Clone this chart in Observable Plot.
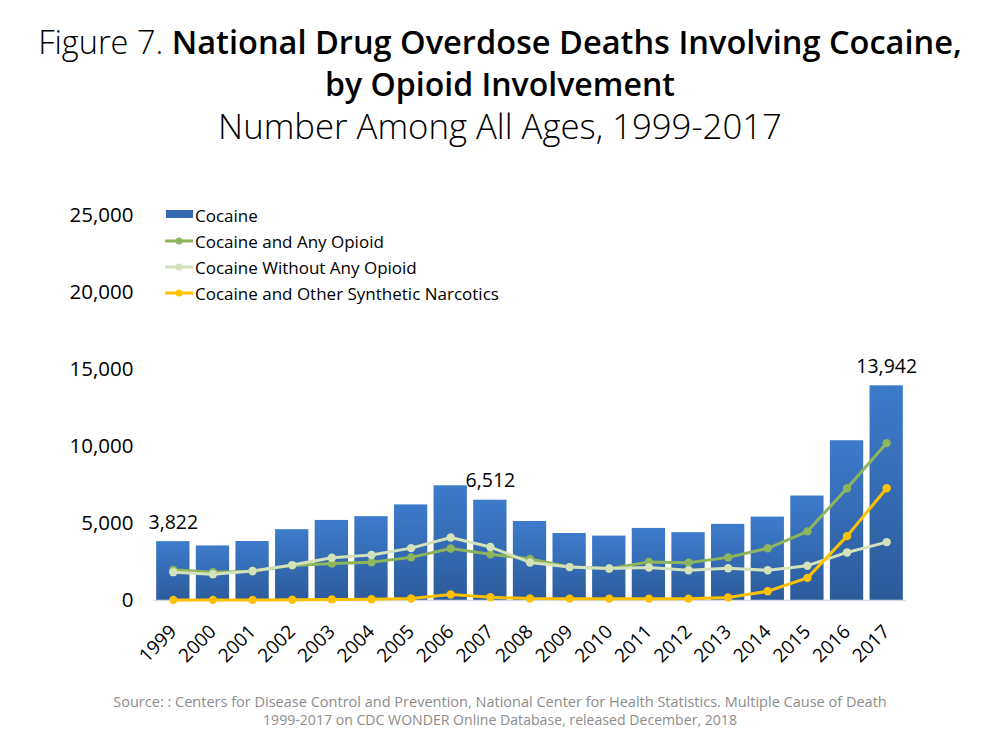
<!DOCTYPE html>
<html>
<head>
<meta charset="utf-8">
<script src="https://cdn.jsdelivr.net/npm/d3@7"></script>
<script src="https://cdn.jsdelivr.net/npm/@observablehq/plot@0.6"></script>
<style>
  html, body { margin: 0; padding: 0; background: #fff; }
  #wrap { position: relative; width: 1000px; height: 750px; font-family: "Open Sans", sans-serif; color: #000; overflow: hidden; }
  .tline { position: absolute; left: 0; width: 1000px; text-align: center; white-space: nowrap; }
  .fit { display: inline-block; white-space: nowrap; }
  #chart { position: absolute; left: 0; top: 170px; }
  #legend { position: absolute; left: 160px; top: 202px; font-size: 17px; }
  .lrow { height: 26px; display: flex; align-items: center; white-space: nowrap; }
  .lrow svg { margin-right: 1px; }
  .cap { position: absolute; left: 0; width: 1000px; text-align: center; color: #8c8c8c; white-space: nowrap; }
</style>
</head>
<body>
<div id="wrap">
  <div class="tline" style="top:21px;line-height:42px;height:42px;"><span class="fit" data-w="924" style="font-size:30px;"><span style="font-weight:300">Figure 7. </span><span style="font-weight:600">National Drug Overdose Deaths Involving Cocaine,</span></span></div>
  <div class="tline" style="top:63px;line-height:42px;height:42px;"><span class="fit" data-w="350" style="font-size:30px;font-weight:600">by Opioid Involvement</span></div>
  <div class="tline" style="top:105px;line-height:42px;height:42px;"><span class="fit" data-w="564" style="font-size:30px;font-weight:300">Number Among All Ages, 1999-2017</span></div>
  <div id="chart"></div>
  <div id="legend"></div>
  <div class="cap" style="top:692px;line-height:18px;"><span class="fit" data-w="774" style="font-size:13px;">Source: : Centers for Disease Control and Prevention, National Center for Health Statistics. Multiple Cause of Death</span></div>
  <div class="cap" style="top:710px;line-height:18px;"><span class="fit" data-w="474" style="font-size:13px;">1999-2017 on CDC WONDER Online Database, released December, 2018</span></div>
</div>
<script>
// ---- Data ----
const years = ["1999","2000","2001","2002","2003","2004","2005","2006","2007","2008","2009","2010","2011","2012","2013","2014","2015","2016","2017"];
const cocaine = [3822, 3544, 3833, 4599, 5199, 5443, 6208, 7448, 6512, 5129, 4350, 4183, 4681, 4404, 4944, 5415, 6784, 10375, 13942];
const cocaineAnyOpioid = [1990, 1840, 1900, 2280, 2400, 2480, 2800, 3380, 3000, 2700, 2170, 2070, 2500, 2450, 2800, 3390, 4490, 7290, 10220];
const cocaineWithoutOpioid = [1840, 1700, 1920, 2300, 2780, 2950, 3400, 4090, 3470, 2470, 2170, 2080, 2140, 1960, 2090, 1960, 2260, 3120, 3790];
const cocaineSynthetic = [40, 40, 40, 50, 70, 80, 130, 390, 210, 130, 120, 120, 120, 120, 190, 600, 1470, 4180, 7290];
const labeledYears = ["1999", "2007", "2017"];
const yTicks = [0, 5000, 10000, 15000, 20000, 25000];

const seriesNames = ["Cocaine and Any Opioid", "Cocaine Without Any Opioid", "Cocaine and Other Synthetic Narcotics"];
const seriesValues = [cocaineAnyOpioid, cocaineWithoutOpioid, cocaineSynthetic];
const seriesColors = ["#8DB55B", "#D2E2BA", "#FFC000"];

const bars = years.map((y, i) => ({year: y, value: cocaine[i]}));
const lines = seriesNames.flatMap((name, s) => years.map((y, i) => ({year: y, value: seriesValues[s][i], series: name})));
const labels = bars.filter(d => labeledYears.includes(d.year));

const defs = () => {
  const g = d3.create("svg:defs");
  const lg = g.append("linearGradient").attr("id", "barGrad").attr("x1", 0).attr("y1", 0).attr("x2", 0).attr("y2", 1);
  lg.append("stop").attr("offset", "0%").attr("stop-color", "#3D7BCB");
  lg.append("stop").attr("offset", "100%").attr("stop-color", "#2C5B9B");
  return g.node();
};

const chart = Plot.plot({
  width: 1000,
  height: 520,
  marginTop: 45,
  marginBottom: 90,
  marginLeft: 153,
  marginRight: 94,
  style: {fontFamily: "'Open Sans', sans-serif", background: "transparent", color: "#000"},
  x: {type: "band", domain: years, paddingInner: 0.16, paddingOuter: 0.08, round: false, label: null},
  y: {domain: [0, 25000], label: null},
  color: {domain: seriesNames, range: seriesColors},
  marks: [
    defs,
    Plot.barY(bars, {x: "year", y: "value", fill: "url(#barGrad)"}),
    Plot.ruleY([0], {stroke: "#d6dde8", strokeWidth: 1.5}),
    Plot.axisY({ticks: yTicks, tickFormat: d3.format(","), tickSize: 0, tickPadding: 20, fontSize: 20.5, label: null}),
    Plot.axisX({tickSize: 0, tickRotate: -45, tickPadding: 28, fontSize: 19, label: null}),
    Plot.line(lines, {x: "year", y: "value", z: "series", stroke: "series", strokeWidth: 3, strokeLinejoin: "round"}),
    Plot.dot(lines, {x: "year", y: "value", fill: "series", r: 4.2}),
    Plot.text(labels, {x: "year", y: "value", text: d => d3.format(",")(d.value), dy: -19, fontSize: 19.5})
  ]
});
document.getElementById("chart").appendChild(chart);

// ---- Legend ----
const legend = d3.select("#legend");
const bRow = legend.append("div").attr("class", "lrow");
const bs = bRow.append("svg").attr("width", 34).attr("height", 12);
bs.append("rect").attr("x", 6).attr("y", 1).attr("width", 27).attr("height", 8).attr("fill", "#3568B0");
bRow.append("span").text("Cocaine");
seriesNames.forEach((name, i) => {
  const r = legend.append("div").attr("class", "lrow");
  const s = r.append("svg").attr("width", 34).attr("height", 12);
  s.append("line").attr("x1", 5).attr("x2", 33).attr("y1", 6).attr("y2", 6).attr("stroke", seriesColors[i]).attr("stroke-width", 3);
  s.append("circle").attr("cx", 19).attr("cy", 6).attr("r", 3.5).attr("fill", seriesColors[i]);
  r.append("span").text(name);
});

// ---- Fit text widths ----
document.querySelectorAll(".fit").forEach(el => {
  const target = +el.dataset.w;
  const fs = parseFloat(el.style.fontSize);
  const w = el.getBoundingClientRect().width;
  if (w > 0) el.style.fontSize = (fs * target / w).toFixed(2) + "px";
});
</script>
</body>
</html>
